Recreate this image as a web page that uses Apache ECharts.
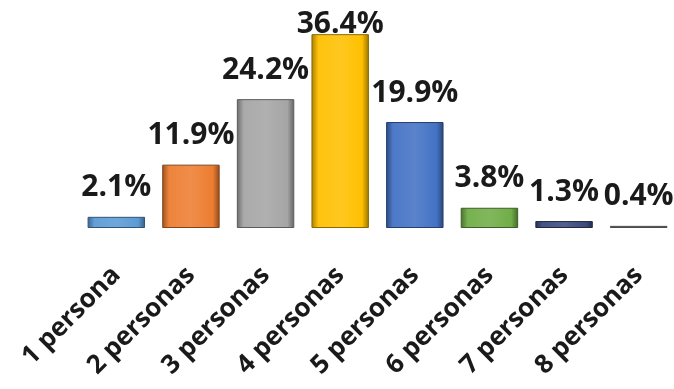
<!DOCTYPE html>
<html>
<head>
<meta charset="utf-8">
<script src="https://cdn.jsdelivr.net/npm/echarts@6/dist/echarts.min.js"></script>
<style>
  html, body { margin: 0; padding: 0; background: #ffffff; }
  #chart { width: 674px; height: 389px; }
</style>
</head>
<body>
<div id="chart"></div>
<script>
// Household size distribution
const categories = ['1 persona', '2 personas', '3 personas', '4 personas', '5 personas', '6 personas', '7 personas', '8 personas'];
const shares = [2.1, 11.9, 24.2, 36.4, 19.9, 3.8, 1.3, 0.4];
const barColors = ['#5b9bd5', '#ed7d31', '#a5a5a5', '#ffc000', '#4472c4', '#70ad47', '#3a4b7c', '#8a8a8a'];

function shade(hex, f) {
  const n = parseInt(hex.slice(1), 16);
  let r = (n >> 16) & 255, g = (n >> 8) & 255, b = n & 255;
  if (f < 0) { r *= 1 + f; g *= 1 + f; b *= 1 + f; }
  else { r += (255 - r) * f; g += (255 - g) * f; b += (255 - b) * f; }
  return 'rgb(' + Math.round(r) + ',' + Math.round(g) + ',' + Math.round(b) + ')';
}

// bevelled bar look: darker rims, lighter face
function bevel(hex) {
  return {
    type: 'linear', x: 0, y: 0, x2: 1, y2: 0,
    colorStops: [
      { offset: 0, color: shade(hex, -0.35) },
      { offset: 0.12, color: shade(hex, 0.05) },
      { offset: 0.5, color: shade(hex, 0.12) },
      { offset: 0.88, color: shade(hex, 0.0) },
      { offset: 1, color: shade(hex, -0.4) }
    ]
  };
}

const seriesData = shares.map((v, i) => ({
  value: v,
  itemStyle: {
    color: bevel(barColors[i]),
    borderColor: shade(barColors[i], -0.45),
    borderWidth: 1
  },
  label: i === 3 ? { distance: -5 } : undefined
}));

const chart = echarts.init(document.getElementById('chart'));
chart.setOption({
  backgroundColor: '#ffffff',
  animation: false,
  grid: { left: 79, right: -2, top: 15, bottom: 161, containLabel: false, outerBoundsMode: 'none' },
  xAxis: {
    type: 'category',
    data: categories,
    axisLine: { show: false },
    axisTick: { show: false },
    axisLabel: {
      rotate: 45,
      margin: 43,
      interval: 0,
      color: '#1a1a1a',
      fontFamily: 'Open Sans',
      fontWeight: 'bold',
      fontSize: 26
    }
  },
  yAxis: {
    type: 'value',
    min: 0,
    max: 40,
    show: false,
    splitLine: { show: false }
  },
  series: [{
    type: 'bar',
    data: seriesData,
    barCategoryGap: '23%',
    label: {
      show: true,
      position: 'top',
      distance: 14,
      formatter: p => p.value.toFixed(1) + '%',
      color: '#1a1a1a',
      fontFamily: 'Open Sans',
      fontWeight: 'bold',
      fontSize: 30
    }
  }]
});
</script>
</body>
</html>
